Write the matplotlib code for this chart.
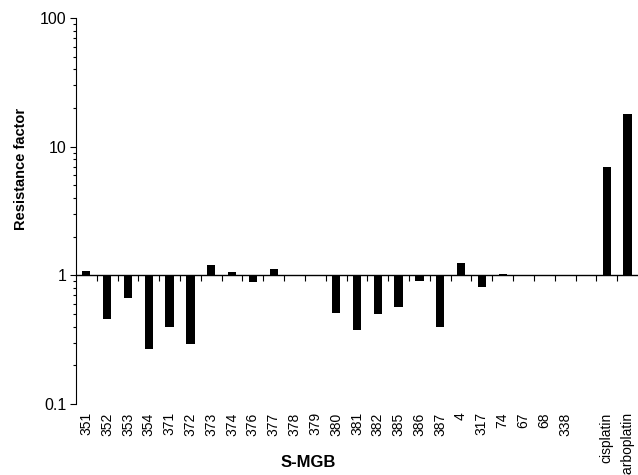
import numpy as np
import matplotlib.pyplot as plt

plt.rcParams['font.family'] = ['Liberation Sans', 'DejaVu Sans']

# 化合物名称
compounds = ['351', '352', '353', '354', '371', '372', '373', '374', '376', '377',
             '378', '379', '380', '381', '382', '385', '386', '387', '4', '317',
             '74', '67', '68', '338', '', 'cisplatin', 'carboplatin']
# 耐药因子
resistance = [1.08, 0.455, 0.67, 0.266, 0.394, 0.294, 1.21, 1.06, 0.88, 1.12,
              0.99, 1.0, 0.507, 0.374, 0.50, 0.567, 0.90, 0.40, 1.25, 0.81,
              1.02, 1.0, 1.0, 1.0, 1.0, 7.0, 18.0]

x = np.arange(len(compounds))
vals = np.array(resistance)

fig = plt.figure(figsize=(6.38, 4.75), dpi=100)
ax = fig.add_axes([0.119, 0.1495, 0.881, 0.8125])

ax.bar(x, vals - 1, bottom=1, width=0.4, color='black')

ax.set_yscale('log')
ax.set_ylim(0.1, 100)
ax.set_xlim(-0.5, len(compounds) - 0.5)
ax.set_yticks([0.1, 1, 10, 100])
ax.set_yticklabels(['0.1', '1', '10', '100'], fontsize=11.5)
ax.tick_params(axis='y', which='major', direction='out', length=4, width=0.8, pad=3)
ax.tick_params(axis='y', which='minor', direction='out', length=2, width=0.8)

# 类别标签放在底部
ax.set_xticks(x)
ax.set_xticklabels(compounds, rotation=90, fontsize=10, va='top', ha='center')
ax.tick_params(axis='x', length=0, pad=6)

for s in ['top', 'right', 'bottom']:
    ax.spines[s].set_visible(False)
ax.spines['left'].set_linewidth(0.8)

# 在 y=1 处画横轴和分隔刻度
sec = ax.secondary_xaxis(1 / 3)
sec.set_xticks(x[:-1] + 0.5)
sec.set_xticklabels([])
sec.tick_params(axis='x', direction='out', length=4, width=0.8)
sec.spines['bottom'].set_linewidth(1.0)

fig.text(0.033, 0.645, 'Resistance factor', rotation=90, fontsize=10.5,
         fontweight='bold', ha='center', va='center')
fig.text(0.483, 0.027, 'S-MGB', fontsize=12, fontweight='bold',
         ha='center', va='center')

fig.savefig('out.png', dpi=100)
